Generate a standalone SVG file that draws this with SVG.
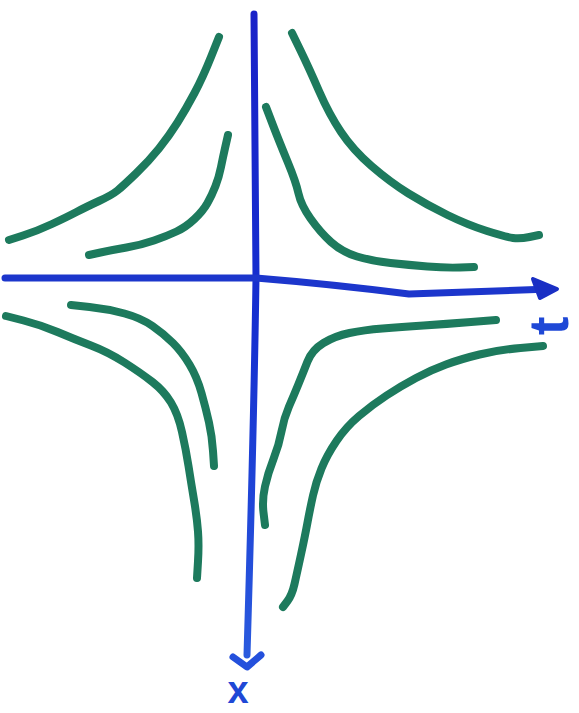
<svg xmlns="http://www.w3.org/2000/svg" width="579" height="713" viewBox="0 0 579 713">
<style>
.g{fill:none;stroke:#1d7a5d;stroke-width:8;stroke-linecap:round;stroke-linejoin:round}
.ax{fill:none;stroke-width:7;stroke-linecap:round;stroke-linejoin:round}
.lbl{font-family:"Liberation Sans",Arial,sans-serif;font-weight:bold;fill:#1f48d6}
</style>
<defs>
<linearGradient id="vg" x1="0" y1="0" x2="0" y2="1">
<stop offset="0" stop-color="#1a22c8"/>
<stop offset="0.5" stop-color="#1530d0"/>
<stop offset="1" stop-color="#2a5ade"/>
</linearGradient>
</defs>
<rect width="579" height="713" fill="#ffffff"/>
<g id="curves">
<path id="curveA" class="g" d="M219,37 L211,57 Q203,77 194.5,93 Q186,109 177.5,122.5 Q169,136 159,148.5 Q149,161 136,173.5 Q123,186 117.5,190.5 Q112,195 99,201 Q86,207 76.5,212 Q67,217 52,224 Q37,231 23,235.5 L9,240"/>
<path id="curveB" class="g" d="M228,135 L225.5,146 Q223,157 221,167 Q219,177 215.5,186 Q212,195 207.5,203 Q203,211 194.5,219 Q186,227 176.5,231.5 Q167,236 154,240.5 Q141,245 126.5,247.5 Q112,250 100.5,252.5 L89,255"/>
<path id="curveC" class="g" d="M292,33 L300.5,50.5 Q309,68 319,91 Q329,114 341,132 Q353,150 371.5,166 Q390,182 408.5,193.5 Q427,205 447.5,215 Q468,225 487,231 Q506,237 513,238 Q520,239 529.5,237 L539,235"/>
<path id="curveD" class="g" d="M266,107 L272.5,124 Q279,141 287.5,161.5 Q296,182 298.5,193.5 Q301,205 310.5,218.5 Q320,232 331,242 Q342,252 357,256.5 Q372,261 390.5,263 Q409,265 427.5,266.5 Q446,268 460,267.5 L474,267"/>
<path id="curveE" class="g" d="M71,305 L89.5,307 Q108,309 124.5,313.5 Q141,318 152.5,326 Q164,334 173,343 Q182,352 189.5,364.5 Q197,377 201.5,393 Q206,409 209,422.5 Q212,436 213,451 L214,466"/>
<path id="curveF" class="g" d="M6,316 L23.5,320.5 Q41,325 57.5,332 Q74,339 91,345.5 Q108,352 124.5,362.5 Q141,373 152.5,382 Q164,391 171,402.5 Q178,414 182,432 Q186,450 188.5,466 Q191,482 194,500 Q197,518 198,531.5 Q199,545 198,561.5 L197,578"/>
<path id="curveG" class="g" d="M496,320 L471,322 Q446,324 423.5,325.5 Q401,327 382.5,328.5 Q364,330 349.5,333 Q335,336 323.5,343 Q312,350 307.5,361.5 Q303,373 298.5,384 Q294,395 289,406.5 Q284,418 281.5,431.5 Q279,445 273.5,459 Q268,473 265,486.5 Q262,500 263.5,512.5 L265,525"/>
<path id="curveH" class="g" d="M543,346 L520.5,348 Q498,350 479.5,354.5 Q461,359 446,364.5 Q431,370 416,378 Q401,386 386.5,395.5 Q372,405 359,416 Q346,427 336.5,441 Q327,455 321.5,468.5 Q316,482 313,495.5 Q310,509 307.5,522.5 Q305,536 301,554.5 Q297,573 294.5,584 Q292,595 287.5,601 L283,607"/>
</g>
<g id="connectors">
<path id="xaxis" class="ax" stroke="url(#vg)" d="M254,14 L256,278 Q254,420 247,655"/>
<path id="xarrow" class="ax" stroke="#2450dc" d="M233,657 L247,667 L261,655"/>
<path id="taxis" class="ax" stroke="#1c36cc" d="M5,278 L256,278 Q330,284 409,294 Q470,292 550,289"/>
<path id="tarrow" fill="#1a2fc4" stroke="#1a2fc4" stroke-width="4" stroke-linejoin="round" d="M533,279 L557,289 L540,298 Z"/>
</g>
<g id="labels">
<text class="lbl" x="238" y="703" font-size="38" text-anchor="middle">x</text>
<text class="lbl" x="0" y="0" font-size="56" text-anchor="middle" transform="translate(568,326) rotate(-90)" fill="#1a2fc4">t</text>
</g>
</svg>
